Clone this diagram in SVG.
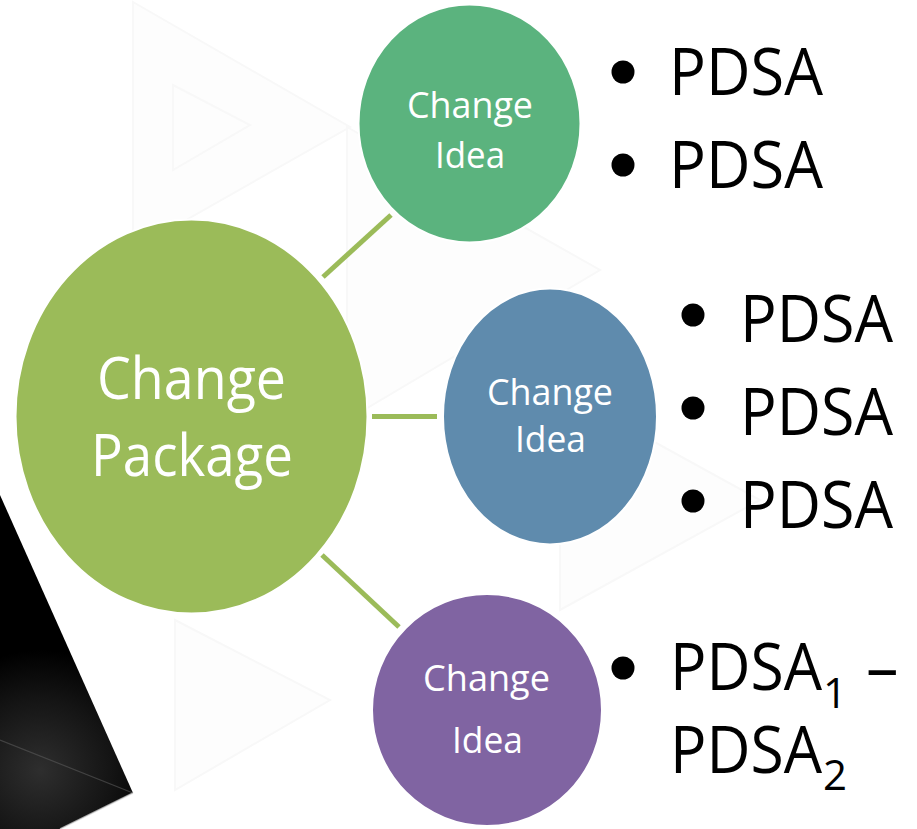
<svg xmlns="http://www.w3.org/2000/svg" width="917" height="829" viewBox="0 0 917 829">
  <defs>
    <radialGradient id="sheen" cx="40" cy="770" r="120" gradientUnits="userSpaceOnUse">
      <stop offset="0" stop-color="#2e2e2e"/>
      <stop offset="0.6" stop-color="#141414"/>
      <stop offset="1" stop-color="#000"/>
    </radialGradient>
    <style>
      .node-shape { stroke: #ffffff; stroke-width: 2; }
      .node-label { font-family: "Open Sans", "Noto Sans", sans-serif; fill: #ffffff; text-anchor: middle; }
      .bullet-text { font-family: "Open Sans", "Noto Sans", sans-serif; fill: #000000; font-size: 65px; }
      .sub { font-size: 42px; }
      .bullet-dot { fill: #000000; }
      .link { stroke: #9bbb59; stroke-width: 5; stroke-linecap: butt; fill: none; }
      .ghost { fill: #fdfdfd; stroke: #f8f8f8; stroke-width: 2; }
    </style>
  </defs>

  <!-- page -->
  <rect width="917" height="829" fill="#ffffff"/>

  <!-- faint backdrop triangles -->
  <g id="backdrop">
    <polygon class="ghost" points="133,2 350,127 133,250"/>
    <polygon class="ghost" points="173,85 250,125 173,170"/>
    <polygon class="ghost" points="347,127 600,270 347,420"/>
    <polygon class="ghost" points="560,390 760,500 560,610"/>
    <polygon class="ghost" points="175,620 330,700 175,790"/>
  </g>

  <!-- dark wedge, lower left -->
  <g id="wedge">
    <polygon points="0,495 133,793 60,829 0,829" fill="url(#sheen)"/>
    <line x1="0" y1="740" x2="133" y2="793" stroke="#5a5a5a" stroke-width="1.2" opacity="0.6"/>
    <line x1="133" y1="793" x2="60" y2="829" stroke="#d8d8d8" stroke-width="1.5" opacity="0.7"/>
  </g>

  <!-- connectors -->
  <g id="connectors">
    <line class="link" x1="323" y1="277" x2="391" y2="215"/>
    <line class="link" x1="372" y1="416.5" x2="437" y2="416.5"/>
    <line class="link" x1="322" y1="555" x2="399" y2="627"/>
  </g>

  <!-- hub -->
  <g id="change-package">
    <ellipse class="node-shape" cx="191.5" cy="416.5" rx="176" ry="197" fill="#9bbb59"/>
    <text class="node-label" font-size="58" textLength="189" lengthAdjust="spacingAndGlyphs" x="191.5" y="399">Change</text>
    <text class="node-label" font-size="58" textLength="202" lengthAdjust="spacingAndGlyphs" x="192" y="476">Package</text>
  </g>

  <!-- top idea -->
  <g id="idea-top">
    <ellipse class="node-shape" cx="469.5" cy="123.5" rx="111" ry="119" fill="#5bb37e"/>
    <text class="node-label" font-size="37" textLength="126" lengthAdjust="spacingAndGlyphs" x="470" y="118">Change</text>
    <text class="node-label" font-size="37" textLength="70" lengthAdjust="spacingAndGlyphs" x="470" y="168">Idea</text>
  </g>

  <!-- middle idea -->
  <g id="idea-middle">
    <ellipse class="node-shape" cx="550" cy="416.5" rx="107" ry="128" fill="#5f8bad"/>
    <text class="node-label" font-size="37" textLength="126" lengthAdjust="spacingAndGlyphs" x="550" y="405">Change</text>
    <text class="node-label" font-size="37" textLength="71" lengthAdjust="spacingAndGlyphs" x="550.5" y="452">Idea</text>
  </g>

  <!-- bottom idea -->
  <g id="idea-bottom">
    <ellipse class="node-shape" cx="487" cy="710" rx="115" ry="116" fill="#8064a2"/>
    <text class="node-label" font-size="37" textLength="127" lengthAdjust="spacingAndGlyphs" x="486.5" y="691">Change</text>
    <text class="node-label" font-size="37" textLength="71" lengthAdjust="spacingAndGlyphs" x="487.5" y="753">Idea</text>
  </g>

  <!-- cycles for top idea -->
  <g id="list-top">
    <circle class="bullet-dot" cx="623" cy="72" r="11.5"/>
    <text class="bullet-text" x="669" y="95" textLength="154" lengthAdjust="spacingAndGlyphs">PDSA</text>
    <circle class="bullet-dot" cx="623" cy="165" r="11.5"/>
    <text class="bullet-text" x="669" y="188" textLength="154" lengthAdjust="spacingAndGlyphs">PDSA</text>
  </g>

  <!-- cycles for middle idea -->
  <g id="list-middle">
    <circle class="bullet-dot" cx="693" cy="315" r="11.5"/>
    <text class="bullet-text" x="740" y="342" textLength="153" lengthAdjust="spacingAndGlyphs">PDSA</text>
    <circle class="bullet-dot" cx="693" cy="408" r="11.5"/>
    <text class="bullet-text" x="740" y="435" textLength="153" lengthAdjust="spacingAndGlyphs">PDSA</text>
    <circle class="bullet-dot" cx="693" cy="501" r="11.5"/>
    <text class="bullet-text" x="740" y="528" textLength="153" lengthAdjust="spacingAndGlyphs">PDSA</text>
  </g>

  <!-- cycles for bottom idea -->
  <g id="list-bottom">
    <circle class="bullet-dot" cx="623" cy="668" r="11.5"/>
    <text class="bullet-text" x="670" y="690"><tspan textLength="152" lengthAdjust="spacingAndGlyphs">PDSA</tspan><tspan class="sub" x="823" y="708">1</tspan><tspan x="866" y="690">–</tspan></text>
    <text class="bullet-text" x="670" y="773"><tspan textLength="152" lengthAdjust="spacingAndGlyphs">PDSA</tspan><tspan class="sub" x="823" y="790">2</tspan></text>
  </g>
</svg>
